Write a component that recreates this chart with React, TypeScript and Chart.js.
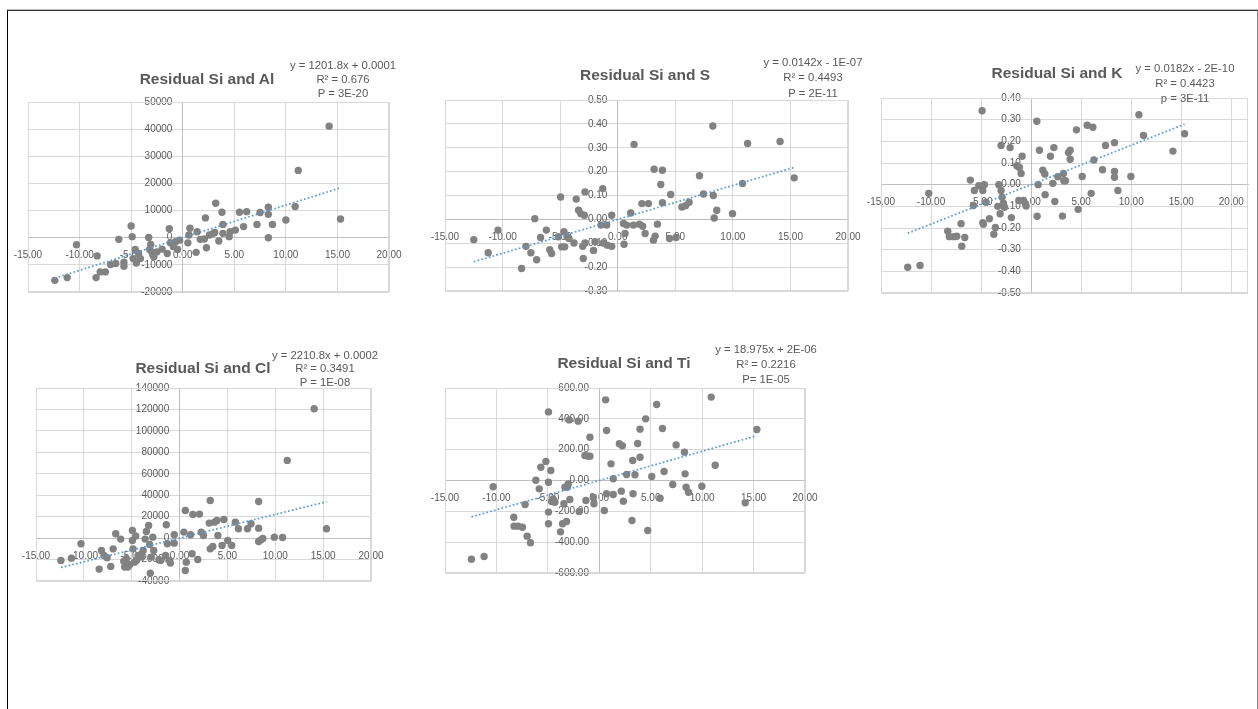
import React, { useEffect, useRef } from "react";
import { Chart, registerables } from "chart.js";

Chart.register(...registerables);

const FONT = "'Liberation Sans', Arial, sans-serif";
const TEXT_COLOR = "#595959";

const xTicks = [-15, -10, -5, 0, 5, 10, 15, 20];
const alYTicks = [-20000, -10000, 0, 10000, 20000, 30000, 40000, 50000];
const sYTicks = [-0.3, -0.2, -0.1, 0, 0.1, 0.2, 0.3, 0.4, 0.5];
const kYTicks = [-0.5, -0.4, -0.3, -0.2, -0.1, 0, 0.1, 0.2, 0.3, 0.4];
const clYTicks = [-40000, -20000, 0, 20000, 40000, 60000, 80000, 100000, 120000, 140000];
const tiYTicks = [-600, -400, -200, 0, 200, 400, 600];

const titles = ["Residual Si and Al", "Residual Si and S", "Residual Si and K", "Residual Si and Cl", "Residual Si and Ti"];
const equations = [
  ["y = 1201.8x + 0.0001", "R² = 0.676", "P = 3E-20"],
  ["y = 0.0142x - 1E-07", "R² = 0.4493", "P = 2E-11"],
  ["y = 0.0182x - 2E-10", "R² = 0.4423", "p = 3E-11"],
  ["y = 2210.8x + 0.0002", "R² = 0.3491", "P = 1E-08"],
  ["y = 18.975x + 2E-06", "R² = 0.2216", "P= 1E-05"],
];
const slopes = [1201.8, 0.0142, 0.0182, 2210.8, 18.975];
const intercepts = [0.0001, -1e-7, -2e-10, 0.0002, 2e-6];

const alPoints: [number, number][] = [
  [-12.4, -15700], [-11.2, -14700], [-10.3, -2600], [-8.3, -6700], [-8.4, -14700], [-8.0, -12600],
  [-7.5, -12600], [-7.0, -9900], [-6.5, -9500], [-6.2, -600], [-5.7, -9000], [-5.7, -10500],
  [-5.0, 4300], [-4.9, 400], [-4.8, -7700], [-4.6, -4300], [-4.5, -9300], [-4.3, -5800],
  [-4.1, -7700], [-3.3, 100], [-3.2, -4300], [-3.1, -2500], [-3.0, -5200], [-2.9, -6400],
  [-2.8, -7000], [-2.5, -5200], [-2.0, -4200], [-1.5, -5800], [-1.3, 3300], [-1.2, -1900],
  [-0.9, -3300], [-0.7, -1500], [-0.5, -4300], [-0.3, -900], [0.5, -1900], [0.6, 1000],
  [0.7, 3500], [1.3, -5400], [1.4, 2200], [1.7, -600], [2.1, -500], [2.2, 7300], [2.3, -3700],
  [2.6, 1000], [2.97, 1600], [3.1, 1900], [3.2, 12700], [3.5, -1200], [3.8, 9400], [3.9, 4900],
  [3.9, 1600], [4.5, 400], [4.6, 2200], [5.1, 2800], [5.5, 9400], [5.9, 4100], [6.2, 9600],
  [7.2, 4900], [7.5, 9300], [8.3, 11200], [8.3, 8600], [8.3, 0], [8.7, 4900], [10.0, 6500],
  [10.9, 11500], [11.2, 24800], [14.2, 41100], [15.3, 6900],
];

const sPoints: [number, number][] = [
  [-12.5, -0.085], [-11.25, -0.14], [-10.4, -0.045], [-8.35, -0.206], [-7.97, -0.113], [-7.54, -0.14],
  [-7.2, 0.003], [-7.04, -0.169], [-6.7, -0.076], [-6.2, -0.045], [-5.9, -0.127], [-5.74, -0.143],
  [-5.16, -0.073], [-4.96, 0.094], [-4.87, -0.115], [-4.67, -0.052], [-4.6, -0.115], [-4.4, -0.073],
  [-4.23, -0.08], [-3.8, -0.099], [-3.6, 0.085], [-3.4, 0.038], [-3.2, 0.024], [-3.04, -0.113],
  [-2.99, -0.164], [-2.9, 0.017], [-2.84, 0.115], [-2.84, -0.099], [-2.1, -0.13], [-1.97, -0.094],
  [-1.45, -0.024], [-1.3, 0.129], [-1.25, -0.099], [-0.96, -0.024], [-0.9, -0.108], [-0.52, -0.113],
  [-0.52, 0.017], [0.5, -0.017], [0.55, -0.104], [0.64, -0.059], [0.78, -0.024], [1.13, 0.027],
  [1.36, -0.024], [1.42, 0.314], [1.88, -0.02], [2.1, 0.066], [2.17, -0.029], [2.38, -0.059],
  [2.67, 0.066], [3.1, -0.087], [3.16, 0.21], [3.25, -0.07], [3.45, -0.02], [3.74, 0.146],
  [3.88, 0.206], [3.88, 0.07], [4.5, -0.08], [4.6, 0.104], [5.07, -0.076], [5.57, 0.052],
  [5.9, 0.057], [6.2, 0.072], [7.1, 0.183], [7.45, 0.106], [8.26, 0.391], [8.3, 0.1],
  [8.38, 0.006], [8.6, 0.038], [9.97, 0.024], [10.84, 0.15], [11.28, 0.318], [14.1, 0.326],
  [15.33, 0.174],
];

const kPoints: [number, number][] = [
  [-12.33, -0.381], [-11.1, -0.373], [-10.23, -0.04], [-8.33, -0.215], [-8.17, -0.24], [-7.73, -0.24],
  [-7.43, -0.238], [-7.0, -0.18], [-6.93, -0.284], [-6.63, -0.244], [-6.07, 0.021], [-5.77, -0.096],
  [-5.67, -0.027], [-5.23, -0.005], [-4.9, 0.341], [-4.83, -0.027], [-4.83, -0.175], [-4.77, -0.183],
  [-4.67, 0.0], [-4.5, -0.081], [-4.17, -0.157], [-3.73, -0.229], [-3.57, -0.198], [-3.33, -0.1],
  [-3.23, 0.0], [-3.1, -0.134], [-3.0, 0.181], [-3.0, -0.027], [-2.9, -0.058], [-2.77, -0.085],
  [-2.67, -0.104], [-2.1, 0.171], [-1.97, -0.152], [-1.43, 0.087], [-1.23, -0.073], [-1.17, 0.079],
  [-1.0, 0.052], [-0.9, 0.131], [-0.77, -0.073], [-0.57, -0.088], [-0.5, -0.099], [0.57, 0.293],
  [0.6, -0.146], [0.7, 0.0], [0.83, 0.159], [1.17, 0.067], [1.37, 0.049], [1.4, -0.046],
  [1.93, 0.131], [2.17, 0.006], [2.27, 0.171], [2.37, -0.078], [2.67, 0.037], [3.13, -0.145],
  [3.23, 0.052], [3.27, 0.018], [3.43, 0.018], [3.73, 0.148], [3.9, 0.159], [3.9, 0.117],
  [4.53, 0.253], [4.7, -0.114], [5.1, 0.038], [5.6, 0.274], [6.17, 0.265], [6.27, 0.114],
  [6.0, -0.04], [7.13, 0.069], [7.43, 0.181], [8.33, 0.194], [8.33, 0.061], [8.33, 0.034],
  [8.67, -0.027], [9.97, 0.038], [10.77, 0.323], [11.23, 0.227], [14.17, 0.155], [15.33, 0.235],
];

const clPoints: [number, number][] = [
  [-12.4, -20800], [-11.3, -18700], [-10.3, -5300], [-8.4, -28900], [-8.16, -11500], [-7.9, -16200],
  [-7.57, -18300], [-7.19, -26400], [-6.94, -10000], [-6.67, 4000], [-6.15, -900], [-5.83, -21500],
  [-5.73, -27000], [-5.56, -19300], [-5.4, -27000], [-5.2, -24600], [-4.93, 7200], [-4.93, -2200],
  [-4.86, -10000], [-4.72, -22400], [-4.58, 1900], [-4.5, -20800], [-4.34, -16200], [-4.0, -17700],
  [-3.8, -11500], [-3.6, -900], [-3.47, 6200], [-3.23, 11800], [-3.13, -5900], [-3.06, -32700],
  [-2.95, -17700], [-2.8, 900], [-2.7, -11500], [-2.15, -20200], [-1.98, -20800], [-1.46, -16200],
  [-1.39, 12400], [-1.28, -5300], [-1.04, -20800], [-0.97, -23300], [-0.56, -4700], [-0.56, 3100],
  [0.45, 5600], [0.6, 25800], [0.6, -30200], [0.7, -22400], [1.15, 3100], [1.3, -14600],
  [1.39, 22100], [1.9, -19900], [2.08, 22400], [2.26, 5600], [2.5, 2500], [3.1, 14000],
  [3.2, 35100], [3.2, -10000], [3.47, -7800], [3.65, 14900], [3.9, 16500], [4.0, 2500],
  [4.44, -6800], [4.62, 17400], [5.03, -2200], [5.45, -6800], [5.83, 14900], [6.15, 8700],
  [7.1, 8700], [7.47, 13400], [8.26, 34200], [8.26, 9300], [8.26, -3100], [8.5, -1600],
  [8.7, -300], [9.9, 900], [10.76, 600], [11.25, 72500], [14.06, 120700], [15.35, 8700],
];

const tiPoints: [number, number][] = [
  [-12.43, -510], [-11.2, -493], [-10.32, -41], [-8.31, -238], [-8.28, -296], [-7.89, -296],
  [-7.47, -303], [-7.21, -156], [-7.01, -361], [-6.69, -404], [-6.17, 2], [-5.84, -54],
  [-5.68, 86], [-5.19, 123], [-4.94, 445], [-4.94, -11], [-4.94, -205], [-4.94, -281],
  [-4.71, 65], [-4.64, -136], [-4.48, -119], [-4.32, -141], [-3.77, -333], [-3.57, -281],
  [-3.44, -151], [-3.34, -43], [-3.18, -266], [-3.12, -43], [-3.02, -22], [-2.92, 393],
  [-2.86, -123], [-2.05, 385], [-1.95, -201], [-1.4, 162], [-1.3, -130], [-1.07, 158],
  [-0.91, 281], [-0.91, 158], [-0.58, -108], [-0.52, -151], [0.49, -195], [0.62, 523],
  [0.71, 324], [0.71, -86], [1.14, 108], [1.36, 11], [1.36, -91], [1.95, 238], [2.14, -69],
  [2.24, 225], [2.34, -134], [2.66, 39], [3.18, -259], [3.25, 130], [3.28, -86], [3.47, 37],
  [3.73, 240], [3.96, 333], [3.96, 151], [4.51, 400], [4.71, -324], [5.1, 26], [5.58, 493],
  [5.91, -115], [6.14, 337], [6.3, 58], [7.14, -26], [7.47, 231], [8.28, 184], [8.34, 43],
  [8.44, -43], [8.67, -76], [9.97, -37], [10.88, 541], [11.27, 99], [14.19, -145], [15.32, 331],
];

const PAD = 50;
// gap between y tick labels and the vertical axis (y axis sits at x = 0)
const Y_LABEL_GAP = "   \u2009";

type Rect = { l: number; t: number; r: number; b: number };

const framePlugin = {
  id: "plotFrame",
  beforeDatasetsDraw(chart: any) {
    const { ctx, chartArea: a } = chart;
    ctx.save();
    ctx.strokeStyle = "#D9D9D9";
    ctx.lineWidth = 1;
    ctx.strokeRect(Math.round(a.left) + 0.5, Math.round(a.top) + 0.5, Math.round(a.right - a.left) - 1, Math.round(a.bottom - a.top) - 1);
    ctx.restore();
  },
};

const fmtInt = (v: number) => String(Math.round(v));
const fmt2 = (v: number) => (Math.abs(v) < 1e-9 ? 0 : v).toFixed(2);

function ScatterPanel(props: {
  rect: Rect;
  points: [number, number][];
  slope: number;
  intercept: number;
  xMax: number;
  yTicks: number[];
  yFmt: (v: number) => string;
}) {
  const ref = useRef<HTMLCanvasElement | null>(null);
  const { rect, points, slope, intercept, xMax, yTicks, yFmt } = props;
  const w = rect.r - rect.l + PAD * 2;
  const h = rect.b - rect.t + PAD * 2;

  useEffect(() => {
    if (!ref.current) return;
    const xs = points.map((p) => p[0]);
    const x0 = Math.min(...xs);
    const x1 = Math.max(...xs);
    const trend = [
      { x: x0, y: slope * x0 + intercept },
      { x: x1, y: slope * x1 + intercept },
    ];
    const tickFont = { family: FONT, size: 10 };
    const chart = new Chart(ref.current, {
      type: "scatter",
      data: {
        datasets: [
          {
            data: trend,
            showLine: true,
            borderColor: "#5B9BD5",
            borderWidth: 1.7,
            borderDash: [1.7, 2.2],
            pointRadius: 0,
            fill: false,
          },
          {
            data: points.map((p) => ({ x: p[0], y: p[1] })),
            backgroundColor: "#828282",
            borderWidth: 0,
            pointRadius: 3.7,
            pointHoverRadius: 3.7,
          },
        ],
      },
      options: {
        animation: false,
        responsive: false,
        maintainAspectRatio: false,
        events: [],
        layout: { padding: PAD },
        plugins: { legend: { display: false }, tooltip: { enabled: false }, title: { display: false } },
        scales: {
          x: {
            type: "linear",
            min: -15,
            max: xMax,
            position: { y: 0 } as any,
            afterBuildTicks: (s: any) => {
              s.ticks = xTicks.map((v) => ({ value: v }));
            },
            grid: { color: "#D9D9D9", drawTicks: false, lineWidth: 1 },
            border: { color: "#BFBFBF", width: 1 },
            ticks: {
              autoSkip: false,
              maxRotation: 0,
              padding: 12,
              color: TEXT_COLOR,
              font: tickFont,
              callback: (v: any) => fmt2(Number(v)),
            },
          },
          y: {
            type: "linear",
            min: yTicks[0],
            max: yTicks[yTicks.length - 1],
            position: { x: 0 } as any,
            afterBuildTicks: (s: any) => {
              s.ticks = yTicks.map((v) => ({ value: v }));
            },
            grid: { color: "#D9D9D9", drawTicks: false, lineWidth: 1 },
            border: { color: "#BFBFBF", width: 1 },
            ticks: {
              autoSkip: false,
              padding: 3,
              color: TEXT_COLOR,
              font: tickFont,
              callback: (v: any) => yFmt(Number(v)) + Y_LABEL_GAP,
            },
          },
        },
      },
      plugins: [framePlugin],
    });
    return () => chart.destroy();
  }, []);

  return (
    <canvas
      ref={ref}
      width={w}
      height={h}
      style={{ position: "absolute", left: rect.l - PAD, top: rect.t - PAD, width: w, height: h }}
    />
  );
}

function Label(props: { cx: number; cy: number; text: string; size: number; bold?: boolean }) {
  const lh = Math.round(props.size * 1.3);
  return (
    <div
      style={{
        position: "absolute",
        left: props.cx - 150,
        width: 300,
        top: props.cy - lh / 2,
        height: lh,
        lineHeight: lh + "px",
        textAlign: "center",
        fontFamily: FONT,
        fontSize: props.size,
        fontWeight: props.bold ? 700 : 400,
        color: TEXT_COLOR,
        whiteSpace: "nowrap",
      }}
    >
      {props.text}
    </div>
  );
}

const panelRects: Rect[] = [
  { l: 28, t: 102, r: 389, b: 292 },
  { l: 445, t: 100, r: 848, b: 291 },
  { l: 881, t: 98, r: 1248, b: 293 },
  { l: 36, t: 388, r: 371, b: 581 },
  { l: 445, t: 388, r: 805, b: 573 },
];
const titlePos = [
  [207, 79],
  [645, 75],
  [1057, 73],
  [203, 368],
  [624, 363],
];
const eqPos = [
  [343, 65, 79, 93],
  [813, 62, 77, 93],
  [1185, 68, 83, 98],
  [325, 355, 368, 382],
  [766, 349, 364, 379],
];

export default function App() {
  const pointsList = [alPoints, sPoints, kPoints, clPoints, tiPoints];
  const yTickList = [alYTicks, sYTicks, kYTicks, clYTicks, tiYTicks];
  const yFmts = [fmtInt, fmt2, fmt2, fmtInt, fmt2];
  const xMaxes = [20, 20, 21.67, 20, 20];
  return (
    <div style={{ position: "absolute", left: 0, top: 0, width: 1258, height: 709, overflow: "hidden", background: "#fff" }}>
      <div
        style={{
          position: "absolute",
          left: 7,
          top: 10,
          width: 1249,
          height: 760,
          borderLeft: "1px solid #000",
          borderTop: "1px solid #333",
          borderRight: "1px solid #888",
          boxShadow: "0 -1px 0 #bbb",
        }}
      />
      {panelRects.map((r, i) => (
        <ScatterPanel
          key={i}
          rect={r}
          points={pointsList[i]}
          slope={slopes[i]}
          intercept={intercepts[i]}
          xMax={xMaxes[i]}
          yTicks={yTickList[i]}
          yFmt={yFmts[i]}
        />
      ))}
      {titles.map((t, i) => (
        <Label key={"t" + i} cx={titlePos[i][0]} cy={titlePos[i][1]} text={t} size={15.5} bold />
      ))}
      {equations.map((lines, i) =>
        lines.map((line, j) => (
          <Label key={"e" + i + "_" + j} cx={eqPos[i][0]} cy={eqPos[i][j + 1]} text={line} size={11.3} />
        ))
      )}
    </div>
  );
}
